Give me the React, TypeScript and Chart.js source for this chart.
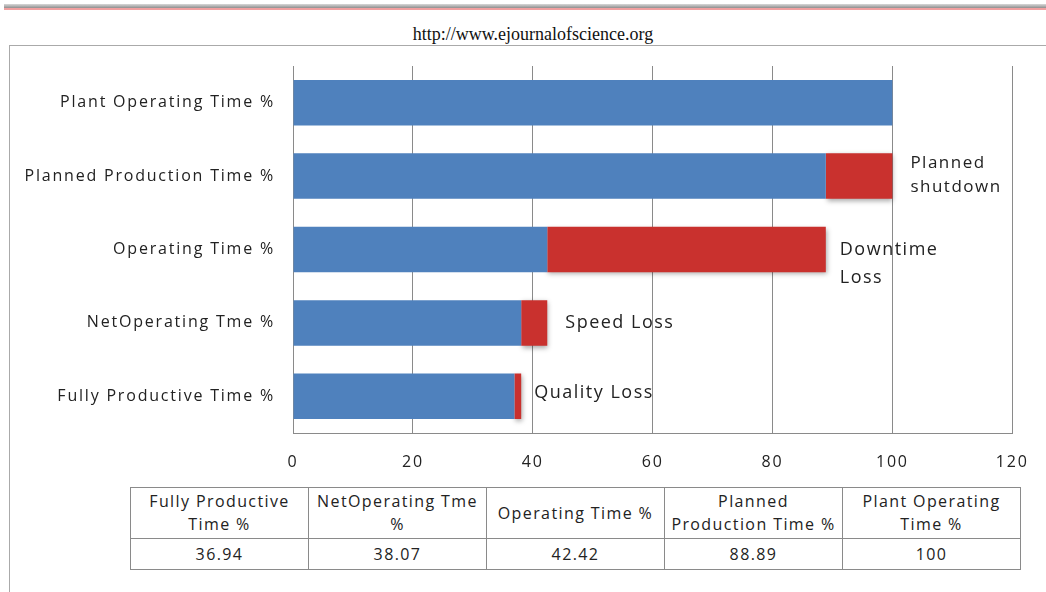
import React, { useEffect, useRef } from "react";
import { Chart, registerables } from "chart.js";

Chart.register(...registerables);

const categories = [
  "Plant Operating Time %",
  "Planned Production Time %",
  "Operating Time %",
  "NetOperating Tme %",
  "Fully Productive Time %",
];
const timeValues = [100, 88.89, 42.42, 38.07, 36.94];
const lossValues = [0, 11.11, 46.47, 4.35, 1.13];
const lossLabels = ["", "Planned\nshutdown", "Downtime\nLoss", "Speed Loss", "Quality Loss"];
const xTicks = [0, 20, 40, 60, 80, 100, 120];

const tableHeaders = [
  ["Fully Productive", "Time %"],
  ["NetOperating Tme", "%"],
  ["Operating Time %"],
  ["Planned", "Production Time %"],
  ["Plant Operating", "Time %"],
];
const tableValues = ["36.94", "38.07", "42.42", "88.89", "100"];

const FONT = "'Open Sans', 'Noto Sans', sans-serif";

const labelStyle: Record<number, { dx: number; dy: number; lh: number; size: number }> = {
  1: { dx: 18, dy: -13, lh: 24, size: 17 },
  2: { dx: 14, dy: 0, lh: 28, size: 18 },
  3: { dx: 18, dy: 0, lh: 28, size: 18 },
  4: { dx: 13, dy: -3, lh: 28, size: 18 },
};

const spacingPlugin = {
  id: "letterSpacing",
  beforeDraw(chart: any) {
    (chart.ctx as any).letterSpacing = "1.8px";
  },
  afterDraw(chart: any) {
    (chart.ctx as any).letterSpacing = "0px";
  },
};

const annotationPlugin = {
  id: "lossAnnotations",
  afterDatasetsDraw(chart: any) {
    const ctx = chart.ctx;
    const xs = chart.scales.x;
    const ys = chart.scales.y;
    ctx.save();
    ctx.fillStyle = "#222";
    ctx.textBaseline = "middle";
    ctx.textAlign = "left";
    ctx.letterSpacing = "1.5px";
    lossLabels.forEach((lab, i) => {
      if (!lab) return;
      const st = labelStyle[i];
      const x = xs.getPixelForValue(timeValues[i] + lossValues[i]) + st.dx;
      const y = ys.getPixelForValue(i) + st.dy;
      ctx.font = `${st.size}px ${FONT}`;
      lab.split("\n").forEach((line, k) => ctx.fillText(line, x, y + k * st.lh));
    });
    ctx.restore();
  },
};

const shadowPlugin = {
  id: "redShadow",
  beforeDatasetDraw(chart: any, args: any) {
    if (args.index === 1) {
      const ctx = chart.ctx;
      ctx.save();
      ctx.shadowColor = "rgba(0,0,0,0.35)";
      ctx.shadowBlur = 5;
      ctx.shadowOffsetX = 1;
      ctx.shadowOffsetY = 2;
    }
  },
  afterDatasetDraw(chart: any, args: any) {
    if (args.index === 1) chart.ctx.restore();
  },
};

function BarChart() {
  const ref = useRef<HTMLCanvasElement | null>(null);
  useEffect(() => {
    if (!ref.current) return;
    const chart = new Chart(ref.current, {
      type: "bar",
      data: {
        labels: categories,
        datasets: [
          {
            data: timeValues,
            backgroundColor: "#4F81BD",
            borderWidth: 0,
            categoryPercentage: 1,
            barPercentage: 0.62,
          },
          {
            data: lossValues,
            backgroundColor: "#C9312E",
            borderWidth: 0,
            categoryPercentage: 1,
            barPercentage: 0.62,
          },
        ],
      },
      options: {
        indexAxis: "y",
        animation: false,
        responsive: false,
        devicePixelRatio: 1,
        layout: { padding: { top: 66, right: 31, left: 0, bottom: 0 } },
        plugins: { legend: { display: false }, tooltip: { enabled: false } },
        scales: {
          x: {
            stacked: true,
            min: 0,
            max: 120,
            afterBuildTicks(scale: any) {
              scale.ticks = xTicks.map((v) => ({ value: v }));
            },
            afterFit(scale: any) {
              scale.height = 47;
            },
            grid: { color: "#8a8a8a", lineWidth: 1, drawTicks: false },
            border: { color: "#8a8a8a" },
            ticks: { padding: 20, color: "#222", font: { family: FONT, size: 16 } },
          },
          y: {
            stacked: true,
            afterFit(scale: any) {
              scale.width = 293;
            },
            grid: { display: false, drawTicks: false },
            border: { color: "#8a8a8a" },
            ticks: { padding: 18, color: "#222", font: { family: FONT, size: 16 } },
          },
        },
      },
      plugins: [spacingPlugin, shadowPlugin, annotationPlugin],
    } as any);
    return () => chart.destroy();
  }, []);
  return (
    <canvas
      ref={ref}
      width={1046}
      height={480}
      style={{ position: "absolute", left: 0, top: 0, width: 1046, height: 480 }}
    />
  );
}

export default function App() {
  const cell: React.CSSProperties = {
    border: "1px solid #8a8a8a",
    textAlign: "center",
    padding: 0,
    color: "#222",
    fontSize: 16,
    letterSpacing: "1.4px",
    lineHeight: "23px",
    whiteSpace: "nowrap",
  };
  return (
    <div
      style={{
        position: "fixed",
        left: 0,
        top: 0,
        width: 1046,
        height: 592,
        overflow: "hidden",
        background: "#fff",
        fontFamily: FONT,
      }}
    >
      <div style={{ position: "absolute", left: 4, top: 4, width: 1042, height: 4, background: "linear-gradient(#d8d8d8, #8f8f8f)" }} />
      <div style={{ position: "absolute", left: 4, top: 8, width: 1042, height: 2, background: "#f0a0a0" }} />
      <div
        style={{
          position: "absolute",
          left: 0,
          top: 24,
          width: 1066,
          textAlign: "center",
          fontFamily: "'Liberation Serif', 'DejaVu Serif', serif",
          fontSize: 18,
          color: "#111",
        }}
      >
        http://www.ejournalofscience.org
      </div>
      <div style={{ position: "absolute", left: 9, top: 45, width: 1100, height: 600, border: "1px solid #aaa" }} />
      <BarChart />
      <table
        style={{
          position: "absolute",
          left: 130,
          top: 487,
          width: 891,
          borderCollapse: "collapse",
          tableLayout: "fixed",
          fontFamily: FONT,
        }}
      >
        <tbody>
          <tr style={{ height: 51 }}>
            {tableHeaders.map((h, i) => (
              <td key={i} style={cell}>
                {h.map((l, k) => (
                  <div key={k}>{l}</div>
                ))}
              </td>
            ))}
          </tr>
          <tr style={{ height: 31 }}>
            {tableValues.map((v, i) => (
              <td key={i} style={cell}>
                {v}
              </td>
            ))}
          </tr>
        </tbody>
      </table>
    </div>
  );
}
